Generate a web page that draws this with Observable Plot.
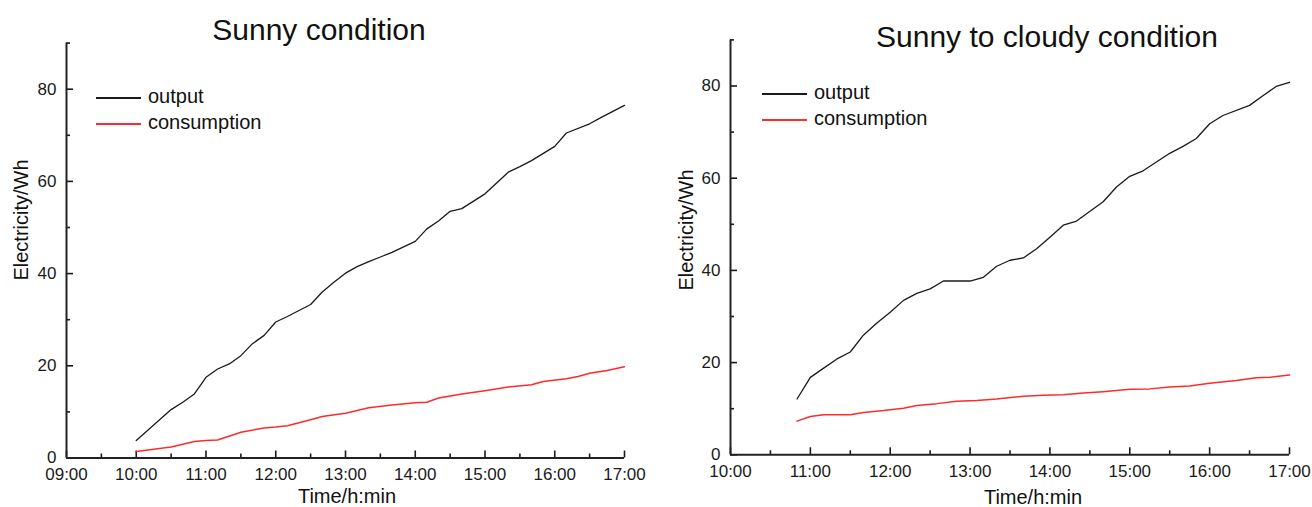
<!DOCTYPE html>
<html>
<head>
<meta charset="utf-8">
<script src="https://cdn.jsdelivr.net/npm/d3@7"></script>
<script src="https://cdn.jsdelivr.net/npm/@observablehq/plot@0.6"></script>
<style>
  body { margin: 0; background: #fff; font-family: "Liberation Sans", Arial, sans-serif; }
  #wrap { position: relative; width: 1312px; height: 507px; overflow: hidden; background: #fff; }
  .panel { position: absolute; top: 0; }
  .txt { position: absolute; white-space: nowrap; color: #111; line-height: 1; }
  .title { font-size: 30px; transform: translateX(-50%); }
  .ylab { font-size: 20px; transform: translate(-50%, -50%) rotate(-90deg); }
  .xlab { font-size: 20px; transform: translate(-50%, -50%); }
  .leg { font-size: 20px; line-height: 22px; }
  .legline { position: absolute; width: 45px; }
</style>
</head>
<body>
<div id="wrap"></div>
<script>
// ---- Data ----
// Sunny condition
const sunnyOutputTime = ["10:00","10:30","10:40","10:50","11:00","11:10","11:20","11:30","11:40","11:50","12:00","12:10","12:30","12:40","12:50","13:00","13:10","13:20","13:30","13:40","14:00","14:10","14:20","14:30","14:40","15:00","15:20","15:30","15:40","16:00","16:10","16:30","16:40","17:00"];
const sunnyOutput = [3.8,10.5,12.1,13.9,17.5,19.3,20.4,22.2,24.8,26.6,29.5,30.7,33.3,36.0,38.1,40.1,41.5,42.6,43.6,44.6,47.0,49.7,51.4,53.5,54.1,57.3,62.0,63.2,64.5,67.6,70.5,72.5,73.9,76.5];
const sunnyConsTime = ["10:00","10:30","10:50","11:00","11:10","11:30","11:50","12:00","12:10","12:30","12:40","13:00","13:20","13:40","14:00","14:10","14:20","14:40","15:00","15:20","15:40","15:50","16:10","16:20","16:30","16:45","17:00"];
const sunnyCons = [1.4,2.4,3.6,3.8,3.9,5.6,6.5,6.7,7.0,8.3,9.0,9.7,10.9,11.5,12.0,12.1,13.0,13.9,14.6,15.4,15.9,16.6,17.2,17.7,18.4,19.0,19.8];

// Sunny to cloudy condition
const cloudyOutputTime = ["10:50","11:00","11:10","11:20","11:30","11:40","11:50","12:00","12:10","12:20","12:30","12:40","13:00","13:10","13:20","13:30","13:40","13:50","14:00","14:10","14:20","14:40","14:50","15:00","15:10","15:30","15:40","15:50","16:00","16:10","16:30","16:40","16:50","17:00"];
const cloudyOutput = [12.1,16.8,18.8,20.8,22.3,26.0,28.6,30.9,33.5,35.0,36.0,37.7,37.7,38.5,40.9,42.2,42.7,44.7,47.2,49.8,50.7,54.9,58.1,60.4,61.6,65.4,66.9,68.6,71.8,73.6,75.8,77.9,79.9,80.8];
const cloudyConsTime = ["10:50","11:00","11:10","11:30","11:40","11:55","12:10","12:20","12:35","12:50","13:05","13:20","13:40","13:55","14:10","14:25","14:40","15:00","15:15","15:30","15:45","16:00","16:20","16:35","16:45","17:00"];
const cloudyCons = [7.3,8.3,8.7,8.7,9.2,9.6,10.1,10.7,11.1,11.6,11.8,12.1,12.7,12.9,13.0,13.4,13.7,14.2,14.3,14.7,14.9,15.5,16.1,16.7,16.8,17.3];

// Tick labels
const sunnyTicks = ["09:00","10:00","11:00","12:00","13:00","14:00","15:00","16:00","17:00"];
const cloudyTicks = ["10:00","11:00","12:00","13:00","14:00","15:00","16:00","17:00"];
const yTicks = [0, 20, 40, 60, 80];
const yMinorTicks = [10, 30, 50, 70, 90];

const seriesNames = ["output", "consumption"];
const seriesColors = ["#1a1a1a", "#ff2a2a"];
const titles = ["Sunny condition", "Sunny to cloudy condition"];
const xTitle = "Time/h:min";
const yTitle = "Electricity/Wh";

// ---- Helpers ----
const toH = s => { const [h, m] = s.split(":").map(Number); return h + m / 60; };
const rows = (times, vals) => times.map((t, i) => ({x: toH(t), y: vals[i]}));

function panel({ticks, out, cons, width, marginLeft, marginRight, marginTop, marginBottom}) {
  const majors = ticks.map(toH);
  const minors = majors.slice(0, -1).map(h => h + 0.5);
  return Plot.plot({
    width, height: 507,
    marginLeft, marginRight, marginTop, marginBottom,
    style: {fontFamily: "'Liberation Sans', Arial, sans-serif", fontSize: "17px", color: "#1a1a1a", background: "transparent", overflow: "visible"},
    x: {domain: [majors[0], majors[majors.length - 1]]},
    y: {domain: [0, 90]},
    marks: [
      Plot.axisX(minors, {tickSize: -4, tickFormat: () => "", label: null, strokeWidth: 1.6}),
      Plot.axisX(majors, {tickSize: -7, tickPadding: 17, tickFormat: (d, i) => ticks[i], label: null, strokeWidth: 1.6}),
      Plot.axisY(yMinorTicks, {tickSize: -4, tickFormat: () => "", label: null, strokeWidth: 1.6}),
      Plot.axisY(yTicks, {tickSize: -7, tickPadding: 17, label: null, strokeWidth: 1.6}),
      Plot.ruleY([0], {stroke: "#222", strokeWidth: 2}),
      Plot.ruleX([majors[0]], {stroke: "#222", strokeWidth: 2}),
      Plot.line(cons, {x: "x", y: "y", stroke: seriesColors[1], strokeWidth: 1.5}),
      Plot.line(out, {x: "x", y: "y", stroke: seriesColors[0], strokeWidth: 1.3})
    ]
  });
}

const wrap = document.getElementById("wrap");

function addPanel(left, svg) {
  const d = document.createElement("div");
  d.className = "panel";
  d.style.left = left + "px";
  d.appendChild(svg);
  wrap.appendChild(d);
}

function addText(cls, text, x, y) {
  const d = document.createElement("div");
  d.className = "txt " + cls;
  d.textContent = text;
  d.style.left = x + "px";
  d.style.top = y + "px";
  wrap.appendChild(d);
}

function addLegend(x, y, gap) {
  seriesNames.forEach((name, i) => {
    const ly = y + i * gap;
    const l = document.createElement("div");
    l.className = "legline";
    l.style.left = x + "px";
    l.style.top = (ly - 1) + "px";
    l.style.height = (i ? 2 : 1.5) + "px";
    l.style.background = seriesColors[i];
    wrap.appendChild(l);
    addText("leg", name, x + 52, ly - 13);
  });
}

addPanel(0, panel({
  ticks: sunnyTicks,
  out: rows(sunnyOutputTime, sunnyOutput),
  cons: rows(sunnyConsTime, sunnyCons),
  width: 656, marginLeft: 66, marginRight: 32, marginTop: 42.6, marginBottom: 49.5
}));
addPanel(656, panel({
  ticks: cloudyTicks,
  out: rows(cloudyOutputTime, cloudyOutput),
  cons: rows(cloudyConsTime, cloudyCons),
  width: 656, marginLeft: 74, marginRight: 23, marginTop: 39.4, marginBottom: 52.7
}));

addText("title", titles[0], 319, 15);
addText("title", titles[1], 1047, 22);
addText("ylab", yTitle, 21, 220);
addText("ylab", yTitle, 686, 230);
addText("xlab", xTitle, 347, 496);
addText("xlab", xTitle, 1033, 497);
addLegend(96, 98.3, 25.7);
addLegend(762, 94.3, 25.7);
</script>
</body>
</html>
